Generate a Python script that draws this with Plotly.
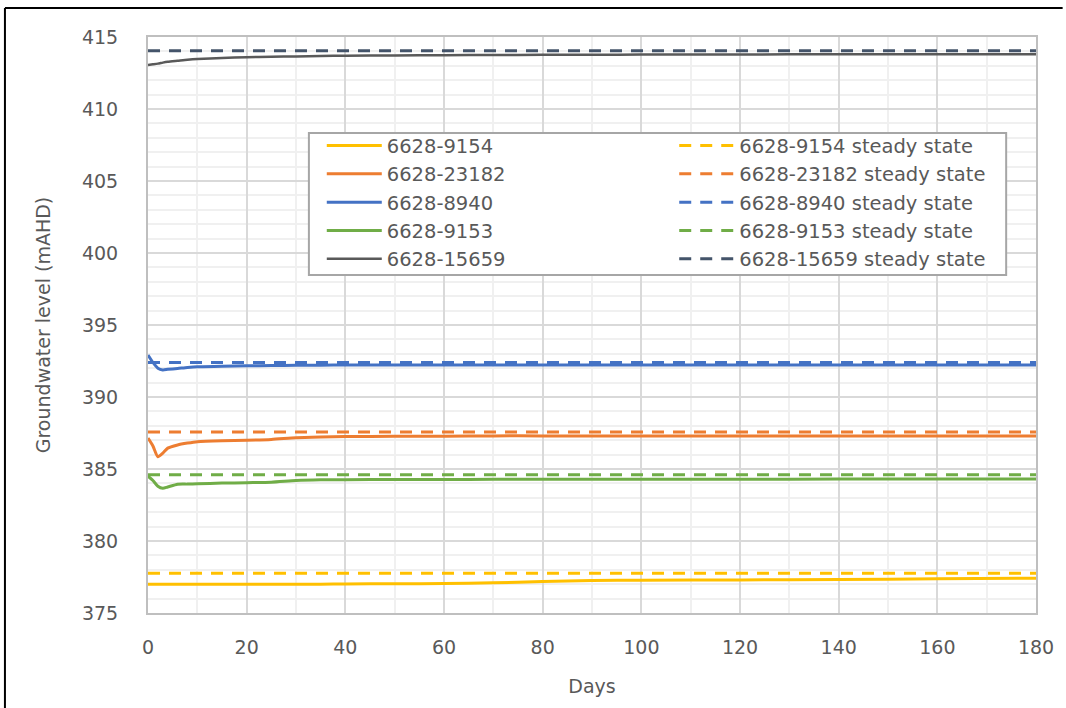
import plotly.graph_objects as go

days = [0, 1, 2, 3, 4, 6, 8, 10, 15, 20, 25, 30, 35, 40, 50, 60, 70, 80, 90, 100, 120, 140, 160, 180]

b9154 = [377.0, 377.0, 377.0, 377.0, 377.0, 377.0, 377.0, 377.0, 377.0, 377.0, 377.0, 377.0, 377.0, 377.02, 377.03, 377.05, 377.1, 377.18, 377.25, 377.28, 377.3, 377.32, 377.38, 377.42]
b23182 = [387.15, 386.6, 385.85, 386.1, 386.45, 386.67, 386.8, 386.9, 386.97, 387.0, 387.05, 387.17, 387.22, 387.25, 387.27, 387.27, 387.3, 387.3, 387.3, 387.3, 387.3, 387.3, 387.3, 387.3]
b8940 = [392.92, 392.4, 392.0, 391.88, 391.92, 391.98, 392.05, 392.1, 392.13, 392.17, 392.18, 392.2, 392.21, 392.22, 392.22, 392.22, 392.22, 392.22, 392.22, 392.22, 392.22, 392.22, 392.22, 392.22]
b9153 = [384.5, 384.2, 383.8, 383.66, 383.75, 383.94, 383.95, 383.97, 384.02, 384.05, 384.08, 384.2, 384.25, 384.26, 384.27, 384.27, 384.28, 384.28, 384.28, 384.28, 384.29, 384.3, 384.3, 384.3]
b15659 = [413.05, 413.1, 413.15, 413.22, 413.28, 413.35, 413.42, 413.47, 413.55, 413.6, 413.63, 413.65, 413.68, 413.7, 413.72, 413.74, 413.75, 413.76, 413.77, 413.78, 413.79, 413.8, 413.8, 413.8]

ss_days = [0, 180]
ss9154 = [377.76, 377.76]
ss23182 = [387.57, 387.57]
ss8940 = [392.4, 392.4]
ss9153 = [384.6, 384.6]
ss15659 = [414.05, 414.05]

names = ["6628-9154", "6628-23182", "6628-8940", "6628-9153", "6628-15659"]
series = [b9154, b23182, b8940, b9153, b15659]
steady = [ss9154, ss23182, ss8940, ss9153, ss15659]
solid_colors = ["#FFC000", "#ED7D31", "#4472C4", "#70AD47", "#595959"]
dash_colors = ["#FFC000", "#ED7D31", "#4472C4", "#70AD47", "#44546A"]
solid_widths = [3, 3, 3, 3, 2.5]

fig = go.Figure()
for n, s, c, w in zip(names, series, solid_colors, solid_widths):
    fig.add_trace(go.Scatter(x=days, y=s, mode="lines", name=n, legend="legend",
                             line=dict(color=c, width=w, shape="spline", smoothing=0.6)))
for n, ss, dc in zip(names, steady, dash_colors):
    fig.add_trace(go.Scatter(x=ss_days, y=ss, mode="lines", name=n + " steady state",
                             legend="legend2",
                             line=dict(color=dc, width=3, dash="12px,9px")))

font_family = "DejaVu Sans, sans-serif"
txt = "#595959"
fs = 19
lfs = 19.5

leg_common = dict(
    orientation="v", xanchor="left", yanchor="top", itemwidth=55,
    bgcolor="rgba(0,0,0,0)", borderwidth=0, traceorder="normal",
    font=dict(family=font_family, size=lfs, color=txt),
)

fig.update_layout(
    width=1066, height=708,
    margin=dict(l=148, r=24, t=37, b=95),
    paper_bgcolor="white", plot_bgcolor="white",
    font=dict(family=font_family, size=fs, color=txt),
    showlegend=True,
    legend=dict(x=0.1957, y=0.845, **leg_common),
    legend2=dict(x=0.5926, y=0.845, **leg_common),
    xaxis=dict(
        range=[0, 180], tickmode="linear", tick0=0, dtick=20,
        showgrid=True, gridcolor="#D9D9D9", gridwidth=2,
        minor=dict(dtick=10, showgrid=True, gridcolor="#F0F0F0", gridwidth=2),
        showline=True, linecolor="#BFBFBF", linewidth=2, mirror=True,
        zeroline=False, ticks="", ticklabelstandoff=16,
        title=dict(text="Days", font=dict(size=fs, color=txt), standoff=23),
    ),
    yaxis=dict(
        range=[375, 415], tickmode="linear", tick0=375, dtick=5,
        showgrid=True, gridcolor="#D9D9D9", gridwidth=2,
        minor=dict(dtick=1, showgrid=True, gridcolor="#F0F0F0", gridwidth=2),
        showline=True, linecolor="#BFBFBF", linewidth=2, mirror=True,
        zeroline=False, ticks="", ticklabelstandoff=24,
        title=dict(text="Groundwater level (mAHD)", font=dict(size=fs, color=txt), standoff=26),
    ),
)

# legend box
fig.add_shape(type="rect", xref="paper", yref="paper", layer="above",
              x0=0.1812, x1=0.9664, y0=0.5868, y1=0.8333,
              fillcolor="white", line=dict(color="#A6A6A6", width=2))

# outer frame (top and left border of the original image)
fig.add_shape(type="line", xref="paper", yref="paper",
              x0=-0.1611, x1=1.03, y0=1.0503, y1=1.0503,
              line=dict(color="black", width=2))
fig.add_shape(type="line", xref="paper", yref="paper",
              x0=-0.1611, x1=-0.1611, y0=-0.17, y1=1.0503,
              line=dict(color="black", width=2))

fig.write_html("out.html", config={"displayModeBar": False},
               post_script="document.body.style.margin='0';")
